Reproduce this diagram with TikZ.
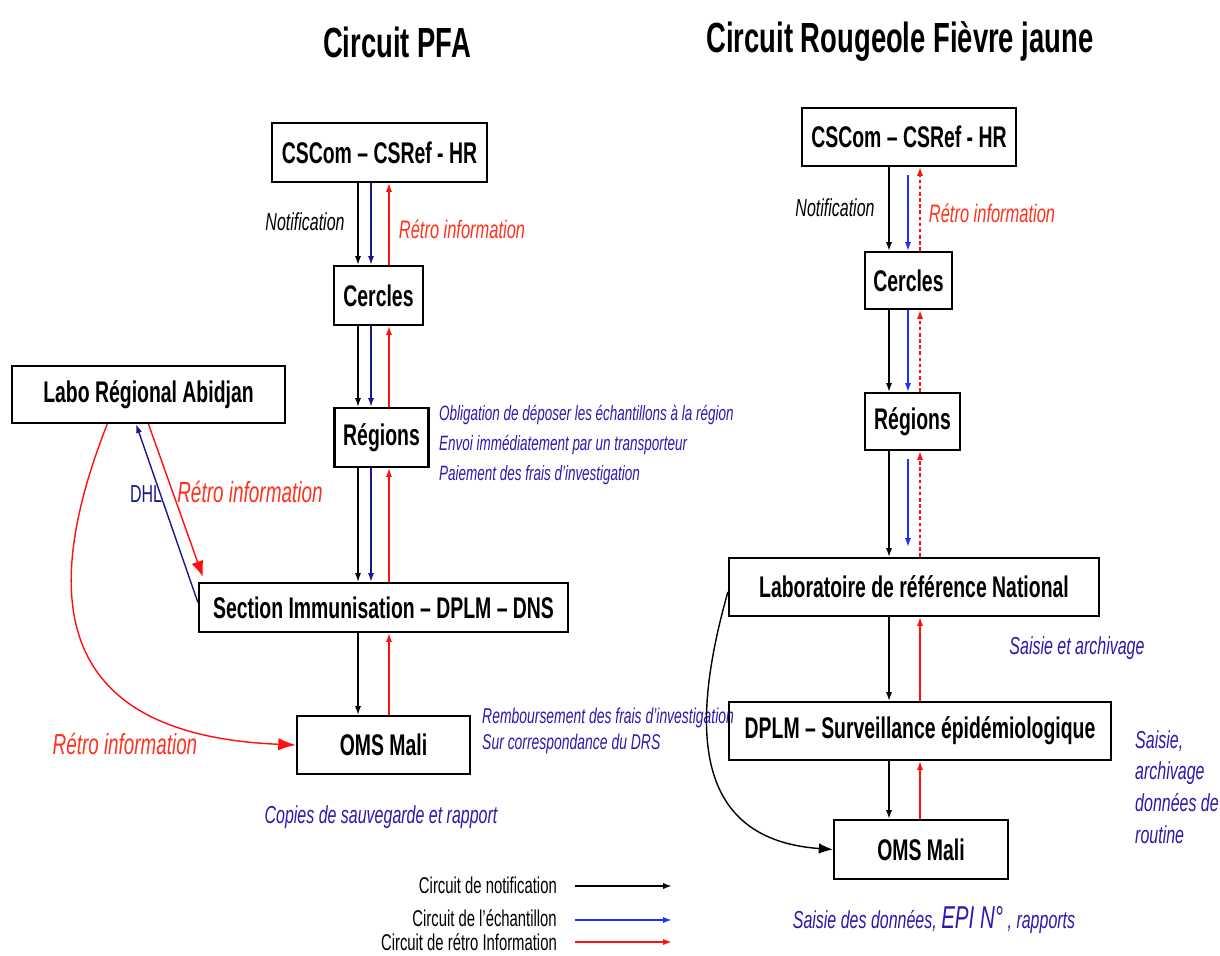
\documentclass[tikz,border=0pt]{standalone}
\usepackage{fontspec}
\setmainfont{Liberation Sans}[FakeStretch=0.65]
\usetikzlibrary{arrows.meta,calc}

\definecolor{navyln}{RGB}{25,25,140}
\definecolor{blueln}{RGB}{30,50,255}
\definecolor{redln}{RGB}{255,15,15}
\definecolor{retro}{RGB}{255,50,30}
\definecolor{notebl}{RGB}{45,25,175}

\begin{document}
\begin{tikzpicture}[x=0.02cm, y=-0.02cm,
    bx/.style={draw, line width=1.3pt, inner sep=0pt, font=\fontsize{17}{19}\selectfont\bfseries},
    wh/.style 2 args={minimum width=#1*0.02cm, minimum height=#2*0.02cm},
    ttl/.style={font=\fontsize{24}{26}\selectfont\bfseries},
    nt/.style={font=\fontsize{11.8}{17}\selectfont\itshape, text=notebl, align=left, anchor=west},
    rt/.style={font=\fontsize{14.4}{16}\selectfont\itshape, text=retro},
    lg/.style={font=\fontsize{13}{15}\selectfont, anchor=east},
    ntf/.style={line width=0.8pt, -{Latex[length=5pt,width=3.5pt]}},
    smpA/.style={ntf, navyln},
    smpB/.style={ntf, blueln},
    ret/.style={ntf, redln},
    retd/.style={ret, dash pattern=on 2pt off 1.5pt}
  ]
  \useasboundingbox (0,0) rectangle (1220,956);

  % titres
  \node[ttl] (titA) at (397,42) {Circuit PFA};
  \node[ttl] (titB) at (900,42) {Circuit Rougeole Fièvre jaune};

  % circuit PFA
  \node[bx, wh={215}{59}] (csL)  at (379.5,152.5) {CSCom – CSRef - HR};
  \node[bx, wh={89}{59}]  (cerL) at (378.5,295.5) {Cercles};
  \node[bx, wh={94}{59}]  (regL) at (381.5,437.5) {Régions};
  \node[bx, wh={273}{57}] (labL) at (148.5,394.5) {Labo Régional Abidjan};
  \node[bx, wh={369}{49}] (secL) at (383.5,607.5) {Section Immunisation – DPLM – DNS};
  \node[bx, wh={173}{58}] (omsL) at (383.5,745) {OMS Mali};

  \coordinate (xNa) at (358,0); \coordinate (xBa) at (371,0); \coordinate (xRa) at (389,0);
  \draw[ntf] (csL.south -| xNa) -- (cerL.north -| xNa); \draw[smpA] (csL.south -| xBa) -- (cerL.north -| xBa);
  \draw[ret] (cerL.north -| xRa) -- (csL.south -| xRa);
  \draw[ntf] (cerL.south -| xNa) -- (regL.north -| xNa); \draw[smpA] (cerL.south -| xBa) -- (regL.north -| xBa);
  \draw[ret] (regL.north -| xRa) -- (cerL.south -| xRa);
  \draw[ntf] (regL.south -| xNa) -- (secL.north -| xNa); \draw[smpA] (regL.south -| xBa) -- (secL.north -| xBa);
  \draw[ret] (secL.north -| xRa) -- (regL.south -| xRa);
  \draw[ntf] (secL.south -| xNa) -- (omsL.north -| xNa);
  \draw[ret] (omsL.north -| xRa) -- (secL.south -| xRa);

  \draw[smpA] ($(secL.north west)!0.4!(secL.south west)$) -- ($(labL.south west)!0.455!(labL.south east)$);
  \draw[ret, -{Latex[length=9pt,width=7pt]}] ($(labL.south west)!0.5!(labL.south east)$) -- ($(secL.north west)+(5,-5)$);
  \draw[ret, -{Latex[length=10pt,width=7pt]}] ($(labL.south west)!0.35!(labL.south east)$)
    .. controls (38,600) and (55,735) .. (omsL.west);

  \node[font=\fontsize{14}{16}\selectfont\itshape] (notA) at (305,222) {Notification};
  \node[rt] (retA) at (462,229) {Rétro information};
  \node[rt, font=\fontsize{16.6}{18}\selectfont\itshape] (retL) at (250,492) {Rétro information};
  \node[font=\fontsize{14}{16}\selectfont, text=navyln] (dhl) at (146,494) {DHL};
  \node[rt, font=\fontsize{16.5}{18}\selectfont\itshape] (retO) at (125,744) {Rétro information};
  \node[nt] (ntReg) at (433,445) {Obligation de déposer les échantillons à la région\\
    Envoi immédiatement par un transporteur\\Paiement des frais d’investigation};
  \node[nt, font=\fontsize{12.2}{15.3}\selectfont\itshape] (ntRmb) at (476,731) {Remboursement des frais d’investigation\\
    Sur correspondance du DRS};
  \node[font=\fontsize{14}{16}\selectfont\itshape, text=notebl] (ntCop) at (381,817) {Copies de sauvegarde et rapport};

  % circuit rougeole fievre jaune
  \node[bx, wh={214}{58}] (csR)  at (909,137) {CSCom – CSRef - HR};
  \node[bx, wh={87}{57}]  (cerR) at (908.5,280.5) {Cercles};
  \node[bx, wh={95}{57}]  (regR) at (912.5,421.5) {Régions};
  \node[bx, wh={370}{58}] (labR) at (914,587) {Laboratoire de référence National};
  \node[bx, wh={382}{58}] (dplR) at (920,731) {DPLM – Surveillance épidémiologique};
  \node[bx, wh={174}{59}] (omsR) at (921,849.5) {OMS Mali};

  \coordinate (xNb) at (889,0); \coordinate (xBb) at (908,0); \coordinate (xRb) at (920,0);
  \draw[ntf] (csR.south -| xNb) -- (cerR.north -| xNb); \draw[ntf] (cerR.south -| xNb) -- (regR.north -| xNb);
  \draw[ntf] (regR.south -| xNb) -- (labR.north -| xNb); \draw[ntf] (labR.south -| xNb) -- (dplR.north -| xNb);
  \draw[ntf] (dplR.south -| xNb) -- (omsR.north -| xNb);
  \draw[smpB] ($(csR.south -| xBb)+(0,8)$) -- (cerR.north -| xBb); \draw[smpB] (cerR.south -| xBb) -- (regR.north -| xBb);
  \draw[smpB] ($(regR.south -| xBb)+(0,8)$) -- ($(labR.north -| xBb)+(0,-10)$);
  \draw[retd] (cerR.north -| xRb) -- (csR.south -| xRb); \draw[retd] (regR.north -| xRb) -- (cerR.south -| xRb);
  \draw[retd] (labR.north -| xRb) -- (regR.south -| xRb);
  \draw[ret] (dplR.north -| xRb) -- (labR.south -| xRb); \draw[ret] (omsR.north -| xRb) -- (dplR.south -| xRb);
  \draw[ntf, -{Latex[length=8pt,width=6pt]}] ($(labR.west)+(0,5)$) .. controls (686,740) and (700,840) .. (omsR.west);

  \node[font=\fontsize{14}{16}\selectfont\itshape] (notB) at (835,208) {Notification};
  \node[rt] (retB) at (992,213) {Rétro information};
  \node[font=\fontsize{14}{16}\selectfont\itshape, text=notebl] (ntSa) at (1077,648) {Saisie et archivage};
  \node[nt, font=\fontsize{14}{18}\selectfont\itshape] (ntSr) at (1129,787) {Saisie,\\archivage\\données de\\routine};
  \node[font=\fontsize{14}{16}\selectfont\itshape, text=notebl] (ntEpi) at (934,920)
    {Saisie des données, {\fontsize{18}{20}\selectfont EPI N°} , rapports};

  % legende
  \node[lg] (lgN) at (563,885) {Circuit de notification};
  \node[lg] (lgS) at (563,918) {Circuit de l’échantillon};
  \node[lg] (lgR) at (563,942) {Circuit de rétro Information};
  \coordinate (lgNa) at (575,886); \coordinate (lgNb) at (672,886);
  \coordinate (lgSa) at (575,920); \coordinate (lgSb) at (672,920);
  \coordinate (lgRa) at (575,942); \coordinate (lgRb) at (672,942);
  \draw[ntf, line width=1.1pt] (lgNa) -- (lgNb);
  \draw[smpB, line width=1.1pt] (lgSa) -- (lgSb);
  \draw[ret, line width=1.1pt] (lgRa) -- (lgRb);
\end{tikzpicture}
\end{document}
